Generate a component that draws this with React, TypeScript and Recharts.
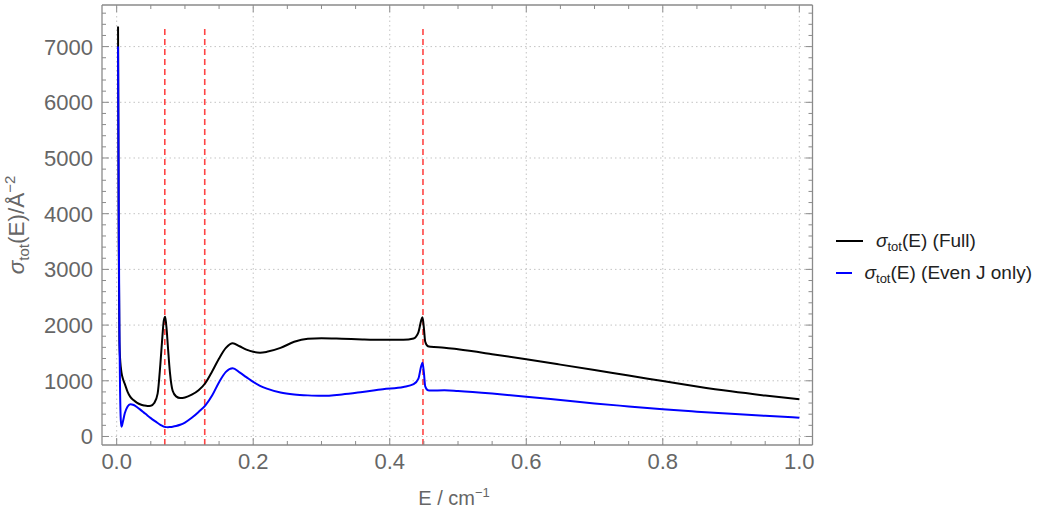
import React from "react";
import { Legend, Line, LineChart, ReferenceLine, XAxis, YAxis } from "recharts";

// energies (cm^-1) and cross sections (Å^-2)
const energy = [
  0.002, 0.003, 0.004, 0.005, 0.006, 0.007, 0.009, 0.012, 0.016, 0.02,
  0.025, 0.03, 0.035, 0.04, 0.045, 0.05, 0.055, 0.06, 0.064, 0.067,
  0.069, 0.071, 0.073, 0.075, 0.078, 0.082, 0.087, 0.093, 0.1, 0.11,
  0.12, 0.13, 0.14, 0.15, 0.16, 0.17, 0.18, 0.19, 0.2, 0.21,
  0.22, 0.24, 0.26, 0.28, 0.3, 0.33, 0.36, 0.39, 0.42, 0.435,
  0.442, 0.446, 0.448, 0.45, 0.452, 0.456, 0.46, 0.48, 0.5, 0.55,
  0.6, 0.65, 0.7, 0.75, 0.8, 0.85, 0.9, 0.95, 1.0,
];

const sigmaFull = [
  7360, 3500, 1700, 1400, 1250, 1150, 1040, 940, 800, 710,
  650, 605, 575, 558, 548, 552, 600, 770, 1300, 1800,
  2080, 2150, 1950, 1620, 1150, 820, 720, 690, 700, 750,
  830, 960, 1170, 1400, 1590, 1675, 1620, 1560, 1520, 1505,
  1520, 1590, 1700, 1755, 1765, 1755, 1742, 1735, 1735, 1760,
  1870, 2080, 2140, 1950, 1700, 1620, 1610, 1595, 1565, 1478,
  1386, 1290, 1192, 1093, 996, 898, 810, 735, 668,
];

const sigmaEven = [
  7000, 4000, 1900, 800, 300, 176, 260, 420, 540, 580,
  565, 525, 478, 428, 378, 330, 285, 242, 210, 190,
  178, 172, 168, 167, 170, 176, 188, 210, 250, 335,
  440, 560, 740, 975, 1160, 1225, 1150, 1065, 980, 910,
  860, 790, 755, 738, 730, 755, 800, 850, 890, 940,
  1040, 1260, 1325, 1150, 900, 830, 825, 828, 815, 770,
  715, 655, 594, 540, 488, 445, 406, 370, 338,
];

// dashed markers
const resonances = [0.0705, 0.129, 0.4487];
const markerTop = 7350;

const xMajor = [0, 0.2, 0.4, 0.6, 0.8, 1.0];
const xTicks = [
  0, 0.05, 0.1, 0.15, 0.2, 0.25, 0.3, 0.35, 0.4, 0.45, 0.5,
  0.55, 0.6, 0.65, 0.7, 0.75, 0.8, 0.85, 0.9, 0.95, 1.0,
];
const yMajor = [0, 1000, 2000, 3000, 4000, 5000, 6000, 7000];
const yTicks = [
  0, 200, 400, 600, 800, 1000, 1200, 1400, 1600, 1800, 2000, 2200, 2400,
  2600, 2800, 3000, 3200, 3400, 3600, 3800, 4000, 4200, 4400, 4600, 4800,
  5000, 5200, 5400, 5600, 5800, 6000, 6200, 6400, 6600, 6800, 7000, 7200,
  7400, 7600,
];

const seriesNames = ["Full", "Even J only"];
const seriesColors = ["#000000", "#0000ff"];

const data = energy.map((e, i) => ({ e, full: sigmaFull[i], even: sigmaEven[i] }));

const X_DOMAIN = [-0.0215, 1.0193];
const Y_DOMAIN = [-153, 7747];
const FONT = "'Liberation Sans', Arial, sans-serif";
const FRAME = "#8a8a8a";
const TEXT = "#666666";

const isMajor = (list: number[], v: number) => list.some((m) => Math.abs(m - v) < 1e-9);

const BottomTick = (props: any) => {
  const { x, y, payload } = props;
  const major = isMajor(xMajor, payload.value);
  return (
    <g>
      <line x1={x} x2={x} y1={y} y2={y - (major ? 7 : 4)} stroke={FRAME} />
      {major && (
        <text x={x} y={y + 24} textAnchor="middle" fill={TEXT} fontSize={22} fontFamily={FONT}>
          {payload.value.toFixed(1)}
        </text>
      )}
    </g>
  );
};

const TopTick = (props: any) => {
  const { x, y, payload } = props;
  const major = isMajor(xMajor, payload.value);
  return <line x1={x} x2={x} y1={y} y2={y + (major ? 7 : 4)} stroke={FRAME} />;
};

const LeftTick = (props: any) => {
  const { x, y, payload } = props;
  const major = isMajor(yMajor, payload.value);
  return (
    <g>
      <line x1={x} x2={x + (major ? 7 : 4)} y1={y} y2={y} stroke={FRAME} />
      {major && (
        <text x={x - 9} y={y} dy="0.36em" textAnchor="end" fill={TEXT} fontSize={22} fontFamily={FONT}>
          {payload.value}
        </text>
      )}
    </g>
  );
};

const RightTick = (props: any) => {
  const { x, y, payload } = props;
  const major = isMajor(yMajor, payload.value);
  return <line x1={x} x2={x - (major ? 7 : 4)} y1={y} y2={y} stroke={FRAME} />;
};

const XTitle = () => (
  <text x={454} y={505} textAnchor="middle" fill={TEXT} fontSize={20} fontFamily={FONT}>
    E / cm
    <tspan dy={-8} fontSize={13}>
      −1
    </tspan>
  </text>
);

const YTitle = () => (
  <text
    x={24}
    y={225}
    transform="rotate(-90 24 225)"
    textAnchor="middle"
    fill={TEXT}
    fontSize={22.5}
    fontFamily={FONT}
  >
    <tspan fontStyle="italic">σ</tspan>
    <tspan dy={5} fontSize={15}>
      tot
    </tspan>
    <tspan dy={-5}>(E)/Å</tspan>
    <tspan dy={-9} fontSize={15}>
      −2
    </tspan>
  </text>
);

const LegendBox = () => (
  <div style={{ fontFamily: FONT, fontSize: 19, color: "#222" }}>
    {seriesNames.map((name, i) => (
      <div key={name} style={{ display: "flex", alignItems: "center", height: 32 }}>
        <svg width={27} height={4} style={{ marginLeft: 24 }}>
          <line x1={0} x2={27} y1={2} y2={2} stroke={seriesColors[i]} strokeWidth={2} />
        </svg>
        <span style={{ marginLeft: 13, whiteSpace: "nowrap" }}>
          <i>σ</i>
          <span style={{ fontSize: 13, position: "relative", top: 4 }}>tot</span>(E) ({name})
        </span>
      </div>
    ))}
  </div>
);

export default function App() {
  return (
    <div style={{ position: "absolute", left: 0, top: 0 }}>
      <LineChart
        width={1046}
        height={512}
        data={data}
        margin={{ top: 4, right: 12.5, bottom: 66, left: 101 }}
      >
        <XAxis
          dataKey="e"
          type="number"
          domain={X_DOMAIN}
          allowDataOverflow
          ticks={xTicks}
          interval={0}
          height={1}
          tickSize={0}
          tickMargin={0}
          tickLine={false}
          tick={<BottomTick />}
          axisLine={{ stroke: FRAME, strokeWidth: 1.3 }}
          label={<XTitle />}
        />
        <XAxis
          xAxisId="top"
          dataKey="e"
          orientation="top"
          type="number"
          domain={X_DOMAIN}
          allowDataOverflow
          ticks={xTicks}
          interval={0}
          height={1}
          tickSize={0}
          tickMargin={0}
          tickLine={false}
          tick={<TopTick />}
          axisLine={{ stroke: FRAME, strokeWidth: 1.3 }}
        />
        <YAxis
          type="number"
          domain={Y_DOMAIN}
          allowDataOverflow
          ticks={yTicks}
          interval={0}
          width={1}
          tickSize={0}
          tickMargin={0}
          tickLine={false}
          tick={<LeftTick />}
          axisLine={{ stroke: FRAME, strokeWidth: 1.3 }}
          label={<YTitle />}
        />
        <YAxis
          yAxisId="right"
          orientation="right"
          type="number"
          domain={Y_DOMAIN}
          allowDataOverflow
          ticks={yTicks}
          interval={0}
          width={1}
          tickSize={0}
          tickMargin={0}
          tickLine={false}
          tick={<RightTick />}
          axisLine={{ stroke: FRAME, strokeWidth: 1.3 }}
        />
        {xMajor.map((v) => (
          <ReferenceLine key={`gx-${v}`} x={v} stroke="#c4c4c4" strokeDasharray="1.5 3" />
        ))}
        {yMajor.map((v) => (
          <ReferenceLine key={`gy-${v}`} y={v} stroke="#c4c4c4" strokeDasharray="1.5 3" />
        ))}
        {resonances.map((v) => (
          <ReferenceLine
            key={`r-${v}`}
            segment={[
              { x: v, y: Y_DOMAIN[0] },
              { x: v, y: markerTop },
            ]}
            stroke="#ff4444"
            strokeWidth={1.6}
            strokeDasharray="6 4"
          />
        ))}
        {/* invisible series so the mirrored frame axes get a scale */}
        <Line
          xAxisId="top"
          yAxisId="right"
          dataKey="full"
          stroke="none"
          dot={false}
          activeDot={false}
          legendType="none"
          isAnimationActive={false}
        />
        <Line
          dataKey="full"
          name="Full"
          type="monotone"
          stroke={seriesColors[0]}
          strokeWidth={2}
          dot={false}
          isAnimationActive={false}
        />
        <Line
          dataKey="even"
          name="Even J only"
          type="monotone"
          stroke={seriesColors[1]}
          strokeWidth={2}
          dot={false}
          isAnimationActive={false}
        />
        <Legend
          layout="vertical"
          align="right"
          verticalAlign="middle"
          content={<LegendBox />}
          wrapperStyle={{ width: 220, left: 812, top: 225 }}
        />
      </LineChart>
    </div>
  );
}
